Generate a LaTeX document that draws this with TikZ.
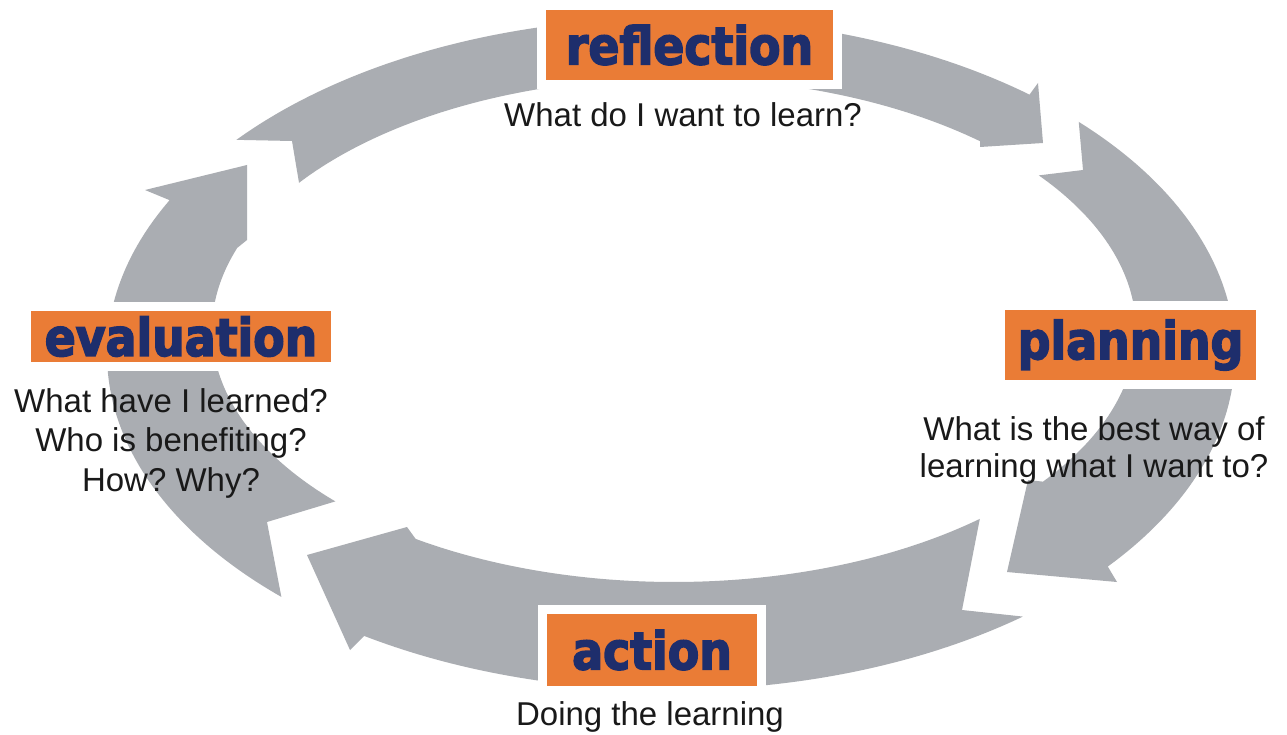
\documentclass[tikz,border=0pt]{standalone}
\usepackage{fontspec}
\setmainfont{Liberation Sans}
\newfontfamily\heavyfont{DejaVu Sans Bold}[FakeBold=3,FakeStretch=0.88]
\definecolor{bandgray}{RGB}{170,173,178}
\definecolor{boxorange}{RGB}{234,124,54}
\definecolor{labelnavy}{RGB}{30,46,108}
\definecolor{qtext}{RGB}{25,25,25}
\frenchspacing

\begin{document}
\begin{tikzpicture}[x=1pt,y=-1pt,
  band/.style={fill=bandgray},
  % arcs of the outer and inner rims of the ring, angles in degrees
  outer arc/.style 2 args={insert path={plot[domain=0:1,samples=80,variable=\pos]
      ({671+564*cos((#1)+((#2)-(#1))*\pos)},{354+336*sin((#1)+((#2)-(#1))*\pos)})}},
  inner arc/.style 2 args={insert path={-- plot[domain=0:1,samples=80,variable=\pos]
      ({674+462*cos((#1)+((#2)-(#1))*\pos)},{330+252*sin((#1)+((#2)-(#1))*\pos)})}},
  stagebox/.style={fill=boxorange, draw=white, line width=9pt, inner sep=0pt,
      text=labelnavy, font=\heavyfont\fontsize{52}{52}\selectfont},
  question/.style={text=qtext, inner sep=0pt, align=center,
      font=\fontsize{33}{39.5}\selectfont}
]
\useasboundingbox (0,0) rectangle (1287,735);
\fill[white] (0,0) rectangle (1287,735);

% ring of chevron arrows, clockwise
\fill[band] [outer arc={-95}{-50.5}] -- (1038,83) -- (1043,143) -- (980,147)
  [inner arc={-48.5}{-95}] -- cycle;
\fill[band] [outer arc={-43.7}{39.3}] -- (1117,582) -- (1007,572) -- (1028,480)
  [inner arc={37}{-37.9}] -- (1083,170) -- cycle;
\fill[band] [outer arc={51.4}{123}] -- (350,650) -- (307,555) -- (407,527)
  [inner arc={124}{48.5}] -- (962,610) -- cycle;
\fill[band] [outer arc={133.7}{207.3}] -- (145,190) -- (247,165) -- (247,240)
  [inner arc={199}{137.1}] -- (267,522) -- cycle;
\fill[band] [outer arc={219.6}{275}] [inner arc={275}{215.7}] -- (292,141) -- cycle;

% stage labels
\node[stagebox, minimum width=296pt, minimum height=79pt] (reflection) at (689.5,45) {reflection};
\node[stagebox, minimum width=260pt, minimum height=79pt] (planning) at (1130.5,345) {planning};
\node[stagebox, minimum width=219pt, minimum height=81pt] (action) at (652,650) {action};
\node[stagebox, minimum width=309pt, minimum height=60pt] (evaluation) at (181,336.5) {evaluation};

% questions under each stage
\node[question, anchor=base] (reflectionq) at (683,127) {What do I want to learn?};
\node[question, anchor=north, font=\fontsize{33}{37}\selectfont] (planningq) at (1094,416)
  {What is the best way of\\learning what I want to?};
\node[question, anchor=base] (actionq) at (650,725) {Doing the learning};
\node[question, anchor=north] (evaluationq) at (171,388)
  {What have I learned?\\Who is benefiting?\\How? Why?};
\end{tikzpicture}
\end{document}
